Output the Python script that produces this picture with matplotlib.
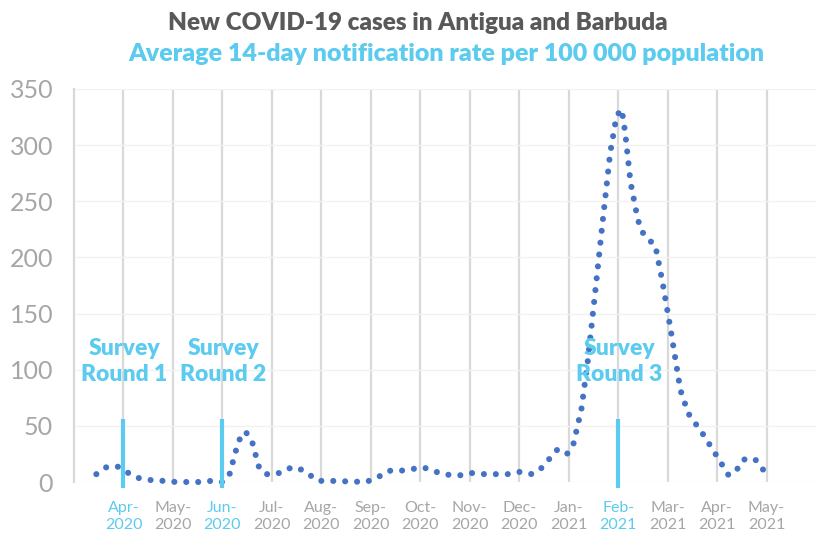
import calendar
import pandas as pd
import matplotlib.pyplot as plt

# ---- data ----
dates = ['2020-03-15', '2020-03-21', '2020-03-28', '2020-04-04', '2020-04-10',
         '2020-04-17', '2020-04-25', '2020-05-03', '2020-05-18', '2020-05-25',
         '2020-06-01', '2020-06-05', '2020-06-09', '2020-06-11', '2020-06-15',
         '2020-06-19', '2020-06-23', '2020-06-27', '2020-07-04', '2020-07-11',
         '2020-07-17', '2020-07-24', '2020-07-30', '2020-08-07', '2020-08-29',
         '2020-09-05', '2020-09-12', '2020-09-19', '2020-09-26', '2020-10-03',
         '2020-10-11', '2020-10-18', '2020-10-26', '2020-11-02', '2020-11-10',
         '2020-11-24', '2020-12-01', '2020-12-09', '2020-12-15', '2020-12-25',
         '2020-12-31', '2021-01-04', '2021-01-09', '2021-01-13', '2021-01-18',
         '2021-01-22', '2021-01-27', '2021-01-31', '2021-02-03', '2021-02-05',
         '2021-02-08', '2021-02-12', '2021-02-14', '2021-02-18', '2021-02-22',
         '2021-02-26', '2021-03-03', '2021-03-09', '2021-03-14', '2021-03-23',
         '2021-03-31', '2021-04-08', '2021-04-13', '2021-04-17', '2021-04-24',
         '2021-04-28', '2021-05-04']
rate = [7, 13, 14, 8, 3.6,
        1.8, 1, 0, 0, 1,
        0, 5, 27, 37, 45,
        36, 14, 7, 7, 12,
        13, 7, 1, 1, 0,
        4, 10, 10, 11.5, 13,
        9, 6.5, 6, 8, 7,
        7, 9, 7, 12.5, 29,
        25, 34, 65, 108, 174,
        228, 293, 326, 332, 311,
        267, 235, 224, 216, 211,
        179, 135, 82, 61, 43,
        25, 6, 11, 20, 20.5,
        12, 6]

month_labels = ['Apr-\n2020', 'May-\n2020', 'Jun-\n2020', 'Jul-\n2020', 'Aug-\n2020',
                'Sep-\n2020', 'Oct-\n2020', 'Nov-\n2020', 'Dec-\n2020', 'Jan-\n2021',
                'Feb-\n2021', 'Mar-\n2021', 'Apr-\n2021', 'May-\n2021']
survey_months = ['2020-04-01', '2020-06-01', '2021-02-01']
survey_labels = ['Survey\nRound 1', 'Survey\nRound 2', 'Survey\nRound 3']

CYAN = '#5BCBEF'
BLUE = '#4472C4'
GREY = '#A6A6A6'


def to_month(d):
    # months since 1 Mar 2020, evenly spaced like the original category axis
    d = pd.Timestamp(d)
    n = calendar.monthrange(d.year, d.month)[1]
    return (d.year - 2020) * 12 + d.month - 3 + (d.day - 1) / n


x = [to_month(d) for d in dates]
survey_x = [to_month(d) for d in survey_months]

plt.rcParams['font.family'] = ['Lato', 'DejaVu Sans']

fig = plt.figure(figsize=(8.16, 5.35), dpi=100)
ax = fig.add_axes([74 / 816, 1 - 482 / 535, 1 - 74 / 816, (482 - 89) / 535])

ax.plot(x, rate, color=BLUE, linewidth=4.4, linestyle=(0, (0.001, 1.95)),
        dash_capstyle='round', solid_capstyle='round', zorder=3, clip_on=False)

for sx, lab in zip(survey_x, survey_labels):
    ax.plot([sx, sx], [-5, 56], color=CYAN, linewidth=3, solid_capstyle='butt',
            zorder=4, clip_on=False)
    ax.text(sx + 0.02, 107, lab, color=CYAN, fontsize=16.5, fontweight='heavy',
            ha='center', va='center', multialignment='center', linespacing=1.3,
            zorder=5)

ax.set_xlim(0, 15)
ax.set_ylim(0, 350)
ax.set_yticks(range(0, 351, 50))
ax.set_xticks(range(1, 15))
ax.set_xticklabels(month_labels)
for lab in ax.get_xticklabels():
    lab.set_color(CYAN if lab.get_text() in ('Apr-\n2020', 'Jun-\n2020', 'Feb-\n2021') else GREY)

ax.tick_params(axis='y', length=0, pad=15, labelsize=18, labelcolor=GREY)
ax.tick_params(axis='x', length=0, pad=14, labelsize=11.5)
ax.grid(axis='x', color='#D9D9D9', linewidth=1.6, zorder=1)
ax.grid(axis='y', color='#F2F2F2', linewidth=1, zorder=1)
ax.set_axisbelow(True)
for side in ['top', 'right', 'bottom']:
    ax.spines[side].set_visible(False)
ax.spines['left'].set_color('#D9D9D9')
ax.spines['left'].set_linewidth(1.6)

fig.text(0.512, 1 - 23 / 535, 'New COVID-19 cases in Antigua and Barbuda',
         ha='center', va='center', fontsize=17.5, fontweight='heavy', color='#595959')
fig.text(0.547, 1 - 54 / 535, 'Average 14-day notification rate per 100 000 population',
         ha='center', va='center', fontsize=18, fontweight='heavy', color=CYAN)

fig.savefig('out.png', dpi=100)
